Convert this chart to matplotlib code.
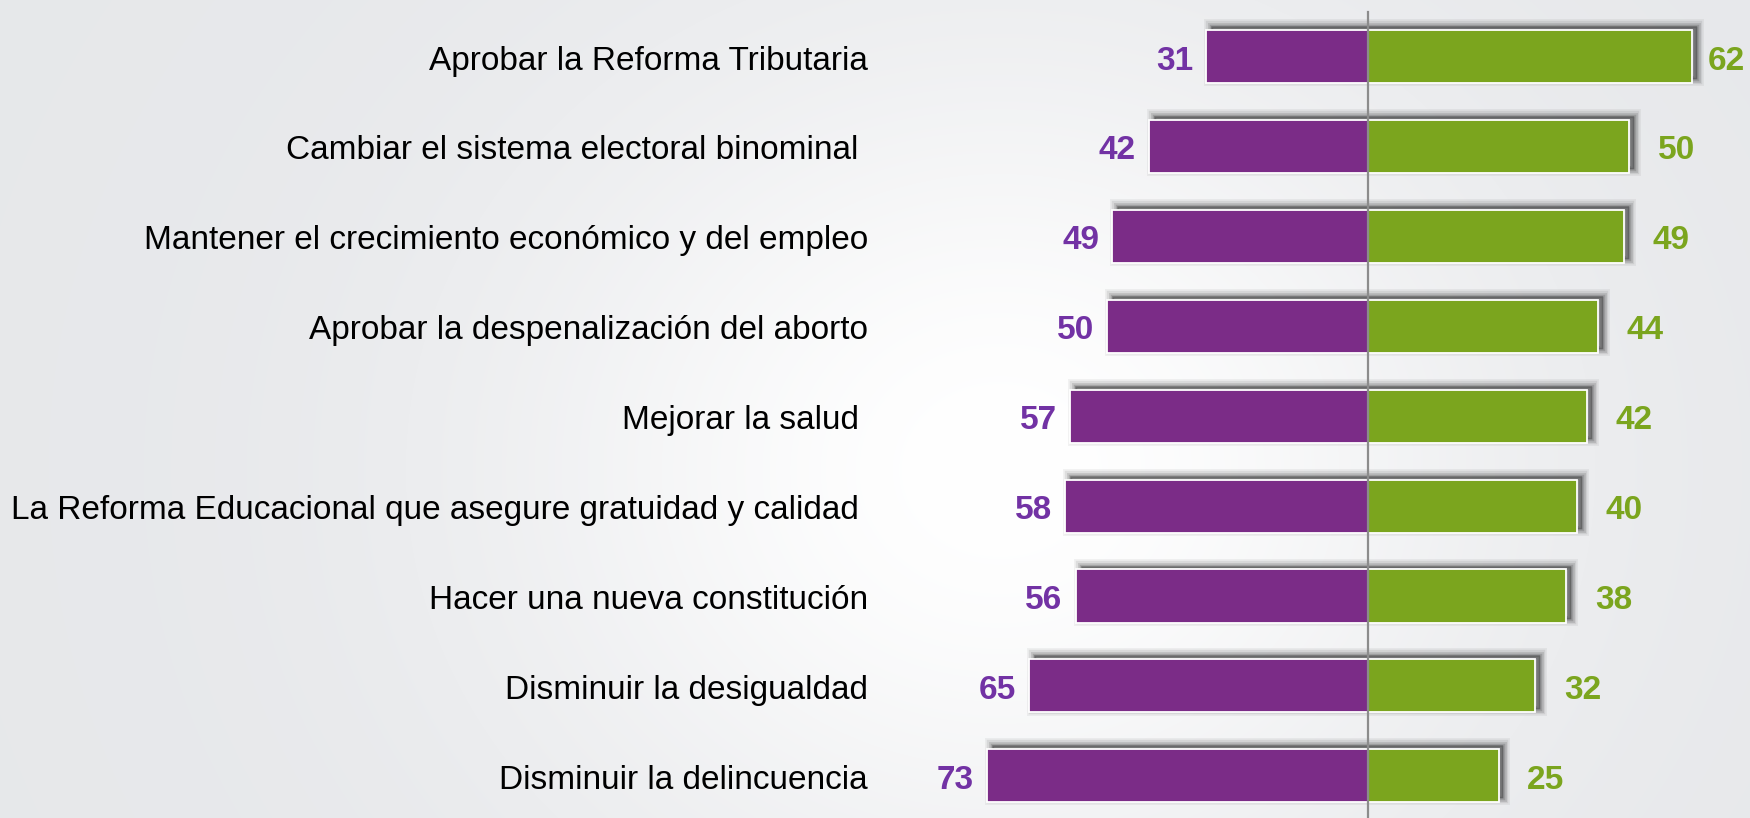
import numpy as np
import matplotlib
matplotlib.use('Agg')
import matplotlib.pyplot as plt
from matplotlib import patheffects as pe

plt.rcParams['font.family'] = ['Liberation Sans', 'DejaVu Sans']

# ---------- 数据 ----------
categories = [
    'Aprobar la Reforma Tributaria',
    'Cambiar el sistema electoral binominal ',
    'Mantener el crecimiento económico y del empleo',
    'Aprobar la despenalización del aborto',
    'Mejorar la salud ',
    'La Reforma Educacional que asegure gratuidad y calidad ',
    'Hacer una nueva constitución',
    'Disminuir la desigualdad',
    'Disminuir la delincuencia',
]
left_vals = [31, 42, 49, 50, 57, 58, 56, 65, 73]    # purple
right_vals = [62, 50, 49, 44, 42, 40, 38, 32, 25]   # green

purple_bar = '#7b2c87'
purple_txt = '#7232a4'
green_bar = '#7ba51e'
green_txt = '#7ba51e'

W, H = 1750, 818
fig = plt.figure(figsize=(W / 100, H / 100), dpi=100)

# ---------- 背景渐变 ----------
ax_bg = fig.add_axes([0, 0, 1, 1])
xx, yy = np.meshgrid(np.arange(W), np.arange(H))
glow = np.exp(-((xx - 1000) / 480.0) ** 2 - ((yy - 470) / 420.0) ** 2)
base = np.array([0.905, 0.91, 0.92])
bg = base[None, None, :] + (1 - base)[None, None, :] * glow[:, :, None]
ax_bg.imshow(bg, extent=(0, W, H, 0), aspect='auto', interpolation='bilinear')
ax_bg.set_axis_off()

# ---------- 主图 ----------
ax = fig.add_axes([0, 0, 1, 1])
ax.patch.set_alpha(0)
px_per_unit = 5.22
x0 = 1368
ax.set_xlim(-x0 / px_per_unit, (W - x0) / px_per_unit)
row_h = 89.9
y_first = 56.6
ax.set_ylim((H - y_first) / row_h, -y_first / row_h)
ax.set_axis_off()

y = np.arange(len(categories))
left = np.array(left_vals)
right = np.array(right_vals)
bh = 0.59

# 阴影 (右上偏移 + 模糊)
shadow_fx = [pe.Stroke(linewidth=lw, foreground='black', alpha=a, offset=(3.5, 2.8))
             for lw, a in [(10, 0.05), (7.5, 0.08), (5, 0.11), (2.5, 0.15)]]
shadow = ax.barh(y, left + right, left=-left, height=bh, color='black',
                 linewidth=0, zorder=2)
for p in shadow:
    p.set_path_effects(shadow_fx)

ax.barh(y, -left, height=bh, color=purple_bar, edgecolor='white', linewidth=1.3, zorder=3)
ax.barh(y, right, height=bh, color=green_bar, edgecolor='white', linewidth=1.3, zorder=3)

ax.axvline(0, ymin=0, ymax=1 - 11.5 / H, color='#8c8c8c', linewidth=1.6, zorder=4)

label_x = (868 - x0) / px_per_unit
right_limit = (1708 - x0) / px_per_unit
dy = 0.05  # 文字略向下
for i, cat in enumerate(categories):
    ax.text(label_x, i + dy, cat, ha='right', va='center', fontsize=24, color='black')
    ax.text(-left[i] - 2.5, i + dy, str(left[i]), ha='right', va='center', fontsize=24,
            fontweight='bold', color=purple_txt)
    ax.text(min(right[i] + 5.5, right_limit), i + dy, str(right[i]), ha='left',
            va='center', fontsize=24, fontweight='bold', color=green_txt)

plt.savefig('out.png', dpi=100)
plt.close()
